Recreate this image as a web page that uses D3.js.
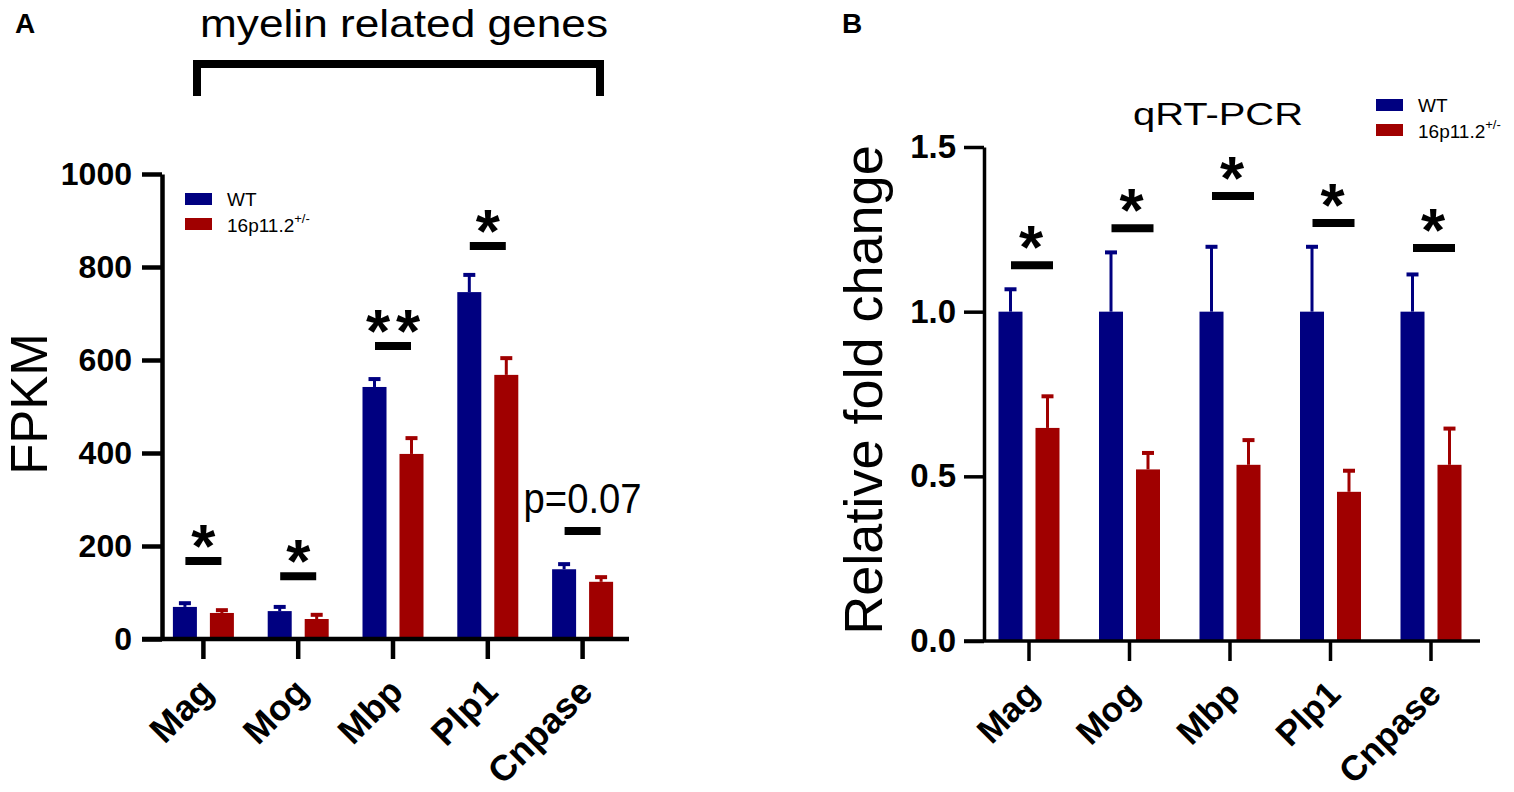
<!DOCTYPE html>
<html><head><meta charset="utf-8">
<script src="https://cdn.jsdelivr.net/npm/d3@7"></script>
<style>
body{margin:0;background:#fff}
svg{display:block}
text{font-family:"Liberation Sans",Arial,Helvetica,sans-serif;fill:#000}
</style>
</head><body>
<svg id="c" width="1514" height="792"></svg>
<script>
// ---------- data ----------
const categories = ["Mag", "Mog", "Mbp", "Plp1", "Cnpase"];
const groups = ["WT", "16p11.2"];

// Panel A: RNA-seq FPKM
const fpkmWT     = [69, 60, 542, 746, 150];
const fpkmWTerr  = [8, 9, 17, 37, 11];
const fpkmKO     = [56, 43, 398, 568, 123];
const fpkmKOerr  = [6, 9, 34, 36, 10];
const sigLevelA  = [168, 135, 630, 845, 232];
const sigLabelA  = ["*", "*", "**", "*", "p=0.07"];
const yTicksA    = [0, 200, 400, 600, 800, 1000];

// Panel B: qRT-PCR relative fold change
const qpcrWT     = [1, 1, 1, 1, 1];
const qpcrWTerr  = [0.068, 0.18, 0.197, 0.197, 0.113];
const qpcrKO     = [0.647, 0.521, 0.535, 0.453, 0.535];
const qpcrKOerr  = [0.096, 0.05, 0.075, 0.064, 0.11];
const sigLevelB  = [1.141, 1.253, 1.351, 1.269, 1.193];
const sigLabelB  = ["*", "*", "*", "*", "*"];
const yTicksB    = [0, 0.5, 1.0, 1.5];

// ---------- drawing ----------
const svg = d3.select("#c");
const colors = ["#000080", "#A00000"];

function drawPanel(p) {
  const g = svg.append("g");
  const x = d3.scaleBand().domain(categories).range(p.xRange);
  const sub = d3.scaleBand().domain(groups).range([-30.5, 30.5]).paddingInner(0.351);
  const y = d3.scaleLinear().domain(p.yDomain).range(p.yRange);
  const cx = c => x(c) + x.bandwidth() / 2;

  // bars + error bars
  groups.forEach((grp, gi) => {
    const rows = categories.map((c, i) => ({c, v: p.values[gi][i], e: p.errors[gi][i]}));
    const gg = g.append("g");
    const bx = d => cx(d.c) + sub(grp);
    gg.selectAll("line.eb").data(rows).join("line")
      .attr("x1", d => bx(d) + sub.bandwidth() / 2).attr("x2", d => bx(d) + sub.bandwidth() / 2)
      .attr("y1", d => y(d.v)).attr("y2", d => y(d.v + d.e))
      .attr("stroke", colors[gi]).attr("stroke-width", 3);
    gg.selectAll("line.cap").data(rows).join("line")
      .attr("x1", d => bx(d) + sub.bandwidth() / 2 - 6).attr("x2", d => bx(d) + sub.bandwidth() / 2 + 6)
      .attr("y1", d => y(d.v + d.e)).attr("y2", d => y(d.v + d.e))
      .attr("stroke", colors[gi]).attr("stroke-width", 4);
    gg.selectAll("rect").data(rows).join("rect")
      .attr("x", d => bx(d)).attr("width", sub.bandwidth())
      .attr("y", d => y(d.v)).attr("height", d => y(0) - y(d.v))
      .attr("fill", colors[gi]);
  });

  // y axis
  const ya = g.append("g").attr("transform", `translate(${p.axisX},0)`)
    .call(d3.axisLeft(y).tickValues(p.yTicks).tickSize(20).tickPadding(p.tickPad)
      .tickSizeOuter(0).tickFormat(p.fmt));
  ya.selectAll("path,line").attr("stroke", "#000").attr("stroke-width", p.axisW);
  ya.selectAll("text").attr("font-size", p.tickFont).attr("font-weight", "bold")
    .attr("fill", "#000").attr("font-family", '"Liberation Sans",Arial,sans-serif');

  // x axis
  const xa = g.append("g").attr("transform", `translate(0,${y(0)})`)
    .call(d3.axisBottom(x).tickSize(20).tickSizeOuter(0).tickFormat(""));
  xa.select(".domain").remove();
  xa.selectAll("line").attr("stroke", "#000").attr("stroke-width", p.axisW);
  g.append("line").attr("x1", p.axisX - 20).attr("x2", p.xEnd)
    .attr("y1", y(0)).attr("y2", y(0)).attr("stroke", "#000").attr("stroke-width", p.axisW);

  g.selectAll("text.xl").data(categories).join("text")
    .attr("transform", c => `translate(${cx(c) + p.labDx},${p.labY}) rotate(-45)`)
    .attr("text-anchor", "end").attr("font-weight", "bold").attr("font-size", p.labFont)
    .text(c => c);

  // significance
  categories.forEach((c, i) => {
    const yy = y(p.sig[i]);
    const mx = cx(c) + p.sigOff;
    g.append("line").attr("x1", mx - p.sigLen / 2).attr("x2", mx + p.sigLen / 2)
      .attr("y1", yy).attr("y2", yy).attr("stroke", "#000").attr("stroke-width", 8);
    const lab = p.sigLab[i];
    if (lab[0] === "*") {
      const n = lab.length;
      for (let k = 0; k < n; k++) {
        g.append("text").attr("x", cx(c) + p.starOff + (k - (n - 1) / 2) * 30)
          .attr("y", yy - p.starGap + 36).attr("text-anchor", "middle")
          .attr("font-size", 62).attr("font-weight", "bold").text("*");
      }
    } else {
      g.append("text").attr("x", cx(c) - 59).attr("y", yy - 18)
        .attr("font-size", 42).attr("textLength", 118).attr("lengthAdjust", "spacingAndGlyphs")
        .text(lab);
    }
  });

  // legend
  const lg = g.append("g");
  groups.forEach((grp, gi) => {
    lg.append("rect").attr("x", p.leg.x).attr("y", p.leg.y + gi * 25).attr("width", 27).attr("height", 12)
      .attr("fill", colors[gi]);
    const t = lg.append("text").attr("x", p.leg.x + 42).attr("y", p.leg.y + 13 + gi * 26)
      .attr("font-size", 19).text(grp);
    if (gi === 1) t.append("tspan").attr("font-size", 13).attr("dy", -9).text("+/-");
  });
  return {x, y};
}

drawPanel({
  xRange: [156, 630], yDomain: [0, 1000], yRange: [639, 174], axisX: 162, xEnd: 629,
  values: [fpkmWT, fpkmKO], errors: [fpkmWTerr, fpkmKOerr], yTicks: yTicksA,
  fmt: d3.format("d"), axisW: 4.5, tickFont: 32, tickPad: 10,
  labDx: 12, labY: 694, labFont: 36,
  sig: sigLevelA, sigLab: sigLabelA, sigOff: 0, sigLen: 36, starOff: 0, starGap: 30,
  leg: {x: 185, y: 193}
});

drawPanel({
  xRange: [978.75, 1481.25], yDomain: [0, 1.5], yRange: [641, 147], axisX: 984, xEnd: 1480,
  values: [qpcrWT, qpcrKO], errors: [qpcrWTerr, qpcrKOerr], yTicks: yTicksB,
  fmt: d3.format(".1f"), axisW: 3.5, tickFont: 33, tickPad: 8,
  labDx: 12, labY: 696, labFont: 35,
  sig: sigLevelB, sigLab: sigLabelB, sigOff: 3, sigLen: 42, starOff: 2, starGap: 33,
  leg: {x: 1376, y: 99}
});

// titles and labels
svg.append("text").attr("x", 15).attr("y", 33).attr("font-size", 28).attr("font-weight", "bold").text("A");
svg.append("text").attr("x", 842).attr("y", 33).attr("font-size", 28).attr("font-weight", "bold").text("B");
svg.append("text").attr("x", 200).attr("y", 37).attr("font-size", 39)
  .attr("textLength", 408).attr("lengthAdjust", "spacingAndGlyphs").text("myelin related genes");
svg.append("path").attr("d", "M197,96V64H600V96").attr("fill", "none")
  .attr("stroke", "#000").attr("stroke-width", 8).attr("stroke-linejoin", "miter");
svg.append("text").attr("transform", "translate(47,404) rotate(-90)").attr("text-anchor", "middle")
  .attr("font-size", 51).text("FPKM");
svg.append("text").attr("transform", "translate(882,390) rotate(-90)").attr("text-anchor", "middle")
  .attr("font-size", 54).text("Relative fold change");
svg.append("text").attr("x", 1133).attr("y", 125).attr("font-size", 32)
  .attr("textLength", 170).attr("lengthAdjust", "spacingAndGlyphs").text("qRT-PCR");
</script>
</body></html>
